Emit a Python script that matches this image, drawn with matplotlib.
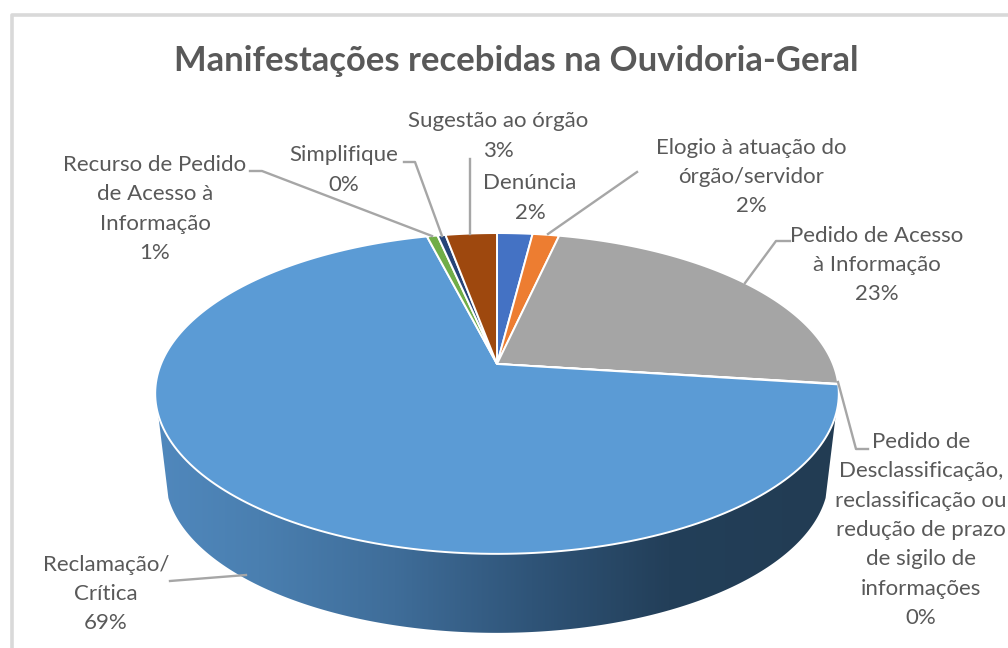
import numpy as np
import matplotlib
matplotlib.use('Agg')
import matplotlib.pyplot as plt
from matplotlib.colors import LinearSegmentedColormap
from matplotlib.patches import Polygon

# share of each slice, clockwise from the top
names = ['Denúncia', 'Elogio à atuação do\nórgão/servidor', 'Pedido de Acesso\nà Informação',
         'Pedido de\nDesclassificação,\nreclassificação ou\nredução de prazo\nde sigilo de\ninformações',
         'Reclamação/\nCrítica', 'Recurso de Pedido\nde Acesso à\nInformação', 'Simplifique', 'Sugestão ao órgão']
values = [2.0, 1.5, 23.5, 0.05, 69.0, 0.6, 0.45, 2.9]
percent_labels = ['2%', '2%', '23%', '0%', '69%', '1%', '0%', '3%']
colors = ['#4472c4', '#ed7d31', '#a5a5a5', '#ffc000', '#5b9bd5', '#70ad47', '#264478', '#9e480e']

label_pos = [(530, 198), (751, 177), (877, 265), (921, 530), (106, 594), (155, 209), (344, 170), (498, 136)]
leaders = [None,
           [(637, 172), (548, 234)],
           [(790, 241), (776, 241), (745, 283)],
           [(868, 449), (856, 449), (838, 382)],
           [(170, 581), (246, 575)],
           [(250, 171), (262, 171), (432, 236)],
           [(404, 162), (415, 162), (442, 236)],
           [(470, 159), (470, 234)]]

title = 'Manifestações recebidas na Ouvidoria-Geral'
text_color = '#595959'
line_color = '#a6a6a6'

# tilted disc, seen in perspective
cx, cy = 497, 364
rx, ry, k = 336, 155, 0.1836


def project(theta, r=1.0, scale=1.0, drop=0.0):
    # theta is clockwise from the top, in radians
    u = r * np.sin(theta)
    v = r * np.cos(theta)
    w = 1 + k * v
    return cx + scale * rx * u / w, cy + drop - scale * ry * v / w


fig = plt.figure(figsize=(10.08, 6.48), dpi=100)
ax = fig.add_axes([0, 0, 1, 1])
ax.set_xlim(0, 1008)
ax.set_ylim(648, 0)
ax.axis('off')

# chart frame
ax.plot([12, 12, 1008], [648, 15, 15], color='#d9d9d9', lw=2.6, zorder=1)

# side wall with its gradient
front = np.radians(np.linspace(108, 252, 300))
tx, ty = project(front)
bx, by = project(front, scale=0.97, drop=84.7)
wall = Polygon(np.r_[np.c_[tx, ty], np.c_[bx, by][::-1]], closed=True, transform=ax.transData, fc='none', ec='none')
ax.add_patch(wall)
wall_cmap = LinearSegmentedColormap.from_list('wall', [(0, '#5088bd'), (0.15, '#4a7fb0'), (0.35, '#3f6d99'),
                                                      (0.55, '#2f5478'), (0.75, '#233f59'), (1, '#223c53')])
grad = ax.imshow(np.linspace(0, 1, 256)[None, :], extent=(155, 840, 640, 380), cmap=wall_cmap, aspect='auto', zorder=2)
grad.set_clip_path(wall)
ax.set_xlim(0, 1008)
ax.set_ylim(648, 0)

# slices on top
edges = np.cumsum([0] + values) / sum(values) * 2 * np.pi
for i in range(len(values)):
    th = np.linspace(edges[i], edges[i + 1], 200)
    x, y = project(th)
    ax.fill(np.r_[cx, x], np.r_[cy, y], color=colors[i], ec='white', lw=1.4, zorder=3)

# leader lines and labels
for i in range(len(values)):
    if leaders[i] is not None:
        p = np.array(leaders[i])
        ax.plot(p[:, 0], p[:, 1], color=line_color, lw=1.7, zorder=4)
    ax.text(label_pos[i][0], label_pos[i][1], names[i] + '\n' + percent_labels[i], ha='center', va='center',
            family='Lato', fontsize=16, color=text_color, linespacing=1.58, zorder=5)

ax.text(516, 61, title, ha='center', va='center', family='Lato', fontweight='bold', fontsize=24.9, color=text_color)

fig.savefig('out.png', dpi=100)
